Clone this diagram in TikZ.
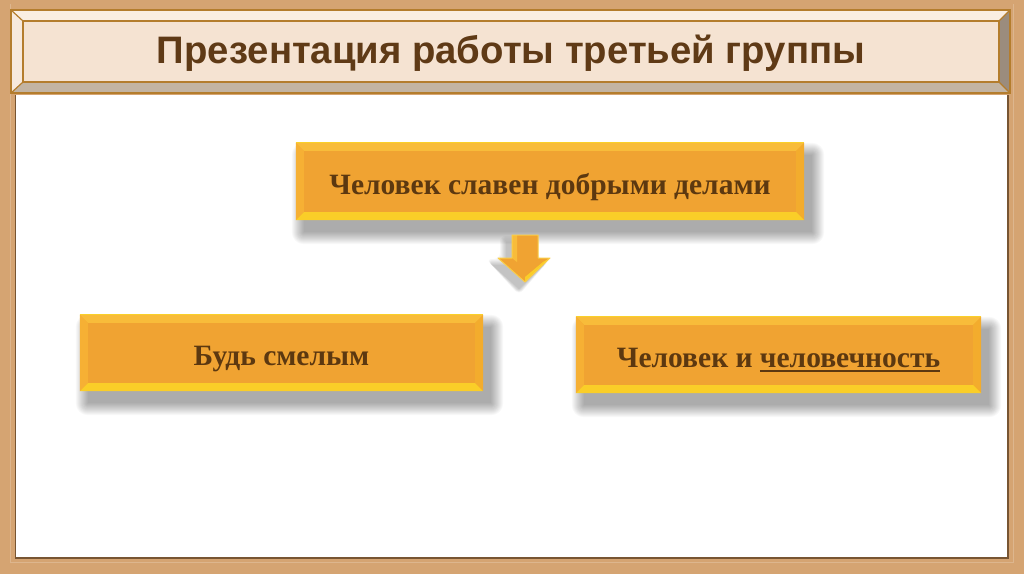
\documentclass[tikz,border=0pt]{standalone}
\usepackage{fontspec}
\setmainfont{Liberation Serif}
\newfontfamily\titlefont{Liberation Sans}
\usetikzlibrary{calc}
\definecolor{frametan}{RGB}{213,164,114}
\definecolor{framedark}{RGB}{120,85,50}
\definecolor{titlefill}{RGB}{245,227,210}
\definecolor{titlebrown}{RGB}{180,125,45}
\definecolor{bevlight}{RGB}{250,238,226}
\definecolor{bevlighttwo}{RGB}{247,233,220}
\definecolor{bevgray}{RGB}{155,140,125}
\definecolor{bevgraytwo}{RGB}{195,180,162}
\definecolor{titletext}{RGB}{95,58,22}
\definecolor{boxorange}{RGB}{240,163,50}
\definecolor{boxtop}{RGB}{248,188,58}
\definecolor{boxleft}{RGB}{246,176,52}
\definecolor{boxbottom}{RGB}{250,206,40}
\definecolor{boxright}{RGB}{243,172,45}
\definecolor{boxtext}{RGB}{92,56,16}
\definecolor{arrowedge}{RGB}{250,205,70}
\pgfdeclarelayer{bg}
\pgfdeclarelayer{sh}
\pgfsetlayers{bg,sh,main}
\newcommand\thickul[1]{\vtop{\hbox{#1}\kern1.8pt\hrule height 2.2pt}}
\tikzset{
  orangebox/.style={fill=boxorange, inner sep=0pt, text=boxtext,
    text height=25pt, text depth=0pt,
    font=\bfseries\fontsize{29.5}{34}\selectfont},
  titlestyle/.style={text=titletext, inner sep=0pt,
    font=\titlefont\bfseries\fontsize{38.3}{44}\selectfont}
}
\newcommand\bevelbox[2]{%
  \fill[boxtop] (#1.north west) -- (#1.north east) -- ($(#1.north east)+(-#2,#2)$) -- ($(#1.north west)+(#2,#2)$) -- cycle;
  \fill[boxleft] (#1.north west) -- ($(#1.north west)+(#2,#2)$) -- ($(#1.south west)+(#2,-#2)$) -- (#1.south west) -- cycle;
  \fill[boxright] (#1.north east) -- ($(#1.north east)+(-#2,#2)$) -- ($(#1.south east)+(-#2,-#2)$) -- (#1.south east) -- cycle;
  \fill[boxbottom] (#1.south west) -- ($(#1.south west)+(#2,-#2)$) -- ($(#1.south east)+(-#2,-#2)$) -- (#1.south east) -- cycle;
  \draw[boxtop!70!yellow, line width=0.8pt] (#1.north west) -- (#1.north east);
  \begin{pgfonlayer}{sh}
    \foreach \e in {0,...,12}{
      \fill[black, opacity=0.026, rounded corners=\e pt]
        ($(#1.north west)+(8-\e,12-\e)$) rectangle ($(#1.south east)+(8+\e,12+\e)$);
    }
  \end{pgfonlayer}
}
\begin{document}
\begin{tikzpicture}[x=1pt,y=-1pt]
\useasboundingbox (0,0) rectangle (1024,574);
\begin{pgfonlayer}{bg}
  \fill[frametan] (0,0) rectangle (1024,574);
  \draw[frametan!80!white, line width=1pt] (10.5,3.5) -- (10.5,562.5) -- (1013.5,562.5) -- (1013.5,3.5);
  \fill[white] (16,95) rectangle (1007,557);
  \draw[framedark, line width=1.5pt] (15.25,95) -- (15.25,557.75) -- (1007.75,557.75) -- (1007.75,95);
  % title bar
  \fill[titlefill] (11,10) rectangle (1010,93);
  \fill[bevlight] (11,10) -- (1010,10) -- (999,21) -- (23,21) -- cycle;
  \fill[bevlighttwo] (11,10) -- (23,21) -- (23,82) -- (11,93) -- cycle;
  \fill[bevgray] (1010,10) -- (999,21) -- (999,82) -- (1010,93) -- cycle;
  \fill[bevgraytwo] (11,93) -- (23,82) -- (999,82) -- (1010,93) -- cycle;
  \draw[titlebrown, line width=2pt] (11,10) rectangle (1010,93);
  \draw[titlebrown, line width=1.5pt] (23,21) rectangle (999,82);
  \draw[titlebrown, line width=1.2pt] (11,10) -- (23,21) (1010,10) -- (999,21) (11,93) -- (23,82) (1010,93) -- (999,82);
\end{pgfonlayer}
\node[titlestyle] (title) at (511,53) {Презентация работы третьей группы};

% boxes
\node[orangebox, minimum width=508pt, minimum height=77pt] (deeds) at (550,181.5) {Человек славен добрыми делами};
\bevelbox{deeds}{8}
\node[orangebox, minimum width=403pt, minimum height=76pt] (brave) at (281.5,353) {Будь смелым};
\bevelbox{brave}{8}
\node[orangebox, minimum width=405pt, minimum height=76pt] (human) at (778.5,355) {Человек и \thickul{человечность}};
\bevelbox{human}{8}

% block arrow
\begin{pgfonlayer}{sh}
  \foreach \e in {0,...,6}{
    \fill[black, opacity=0.035, rounded corners=\e pt, shift={(-6,7)}]
      (512-\e,235-\e) -- (538+\e,235-\e) -- (538+\e,258-\e) -- (550+\e,258-\e) -- (525,282+\e) -- (498-\e,258-\e) -- (512-\e,258-\e) -- cycle;
  }
\end{pgfonlayer}
\fill[boxorange] (512,235) -- (538,235) -- (538,258) -- (550,258) -- (525,282) -- (498,258) -- (512,258) -- cycle;
\fill[boxtop] (512,235) -- (517,235) -- (517,262) -- (512,258) -- cycle;
\fill[boxbottom] (525,282) -- (550,258) -- (543,262) -- (525,277) -- cycle;
\draw[arrowedge, line width=1pt, line join=round] (512,235) -- (538,235) -- (538,258) -- (550,258) -- (525,282) -- (498,258) -- (512,258) -- cycle;
\end{tikzpicture}
\end{document}
